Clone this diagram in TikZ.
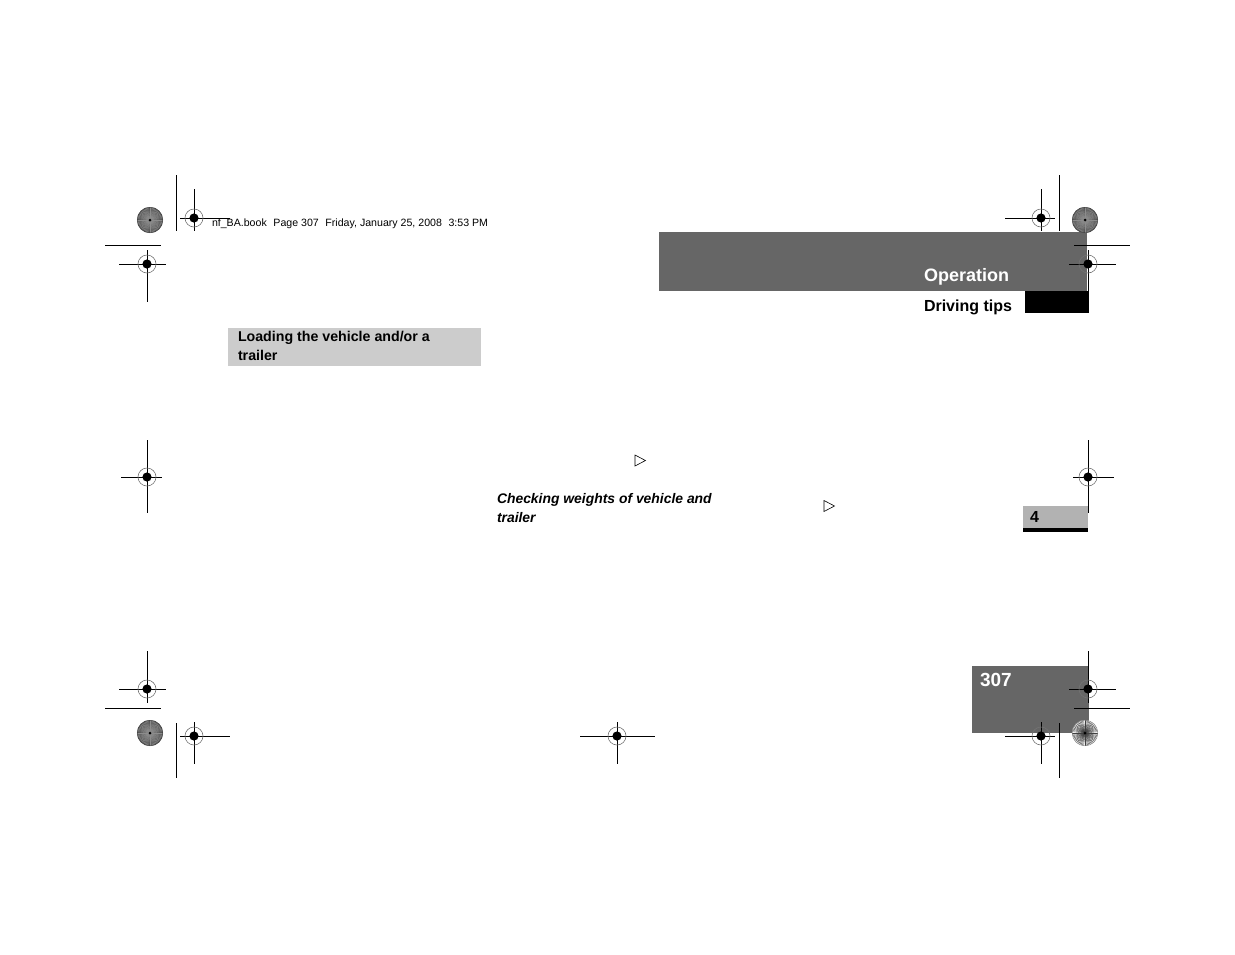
\documentclass[tikz,border=0pt]{standalone}
\usepackage{fontspec}
\setmainfont{Liberation Sans}
\begin{document}
\begin{tikzpicture}[x=1pt,y=-1pt,
  crop/.style={line width=0.9pt,black},
  regc/.pic={\draw[line width=0.6pt,black!55] (0,0) circle (9);
             \fill[black] (0,0) circle (4.6);},
  darkburst/.pic={\fill[black!68] (0,0) circle (13);
             \foreach \a in {0,6,...,354} \draw[black!45,line width=0.4pt] (0,0) -- (\a:12.6);
             \draw[black!75,line width=0.4pt] (0,0) circle (12.8);
             \fill[black] (0,0) circle (1.5);},
  lightburst/.pic={\fill[white] (0,0) circle (13);
             \foreach \a in {0,6,...,354} \draw[black!75,line width=0.4pt] (0,0) -- (\a:12.6);
             \draw[black!50,line width=0.4pt] (0,0) circle (12.8);
             \fill[black] (0,0) circle (1.5);},
  lbl/.style={inner sep=0pt,outer sep=0pt},
  tri/.style={line width=0.6pt,black}
]
\useasboundingbox (0,0) rectangle (1235,954);
\fill[white] (0,0) rectangle (1235,954);

% ---------- boxes ----------
\fill[black!60] (659,232) rectangle (1087,291);
\fill[black] (1025,291) rectangle (1089,313);
\fill[black!20] (228,328) rectangle (481,366);
\fill[black!30] (1023,506) rectangle (1088,528);
\fill[black] (1023,528) rectangle (1088,532);
\fill[black!60] (972,666) rectangle (1089,733);

% ---------- texts ----------
\node[lbl,anchor=base west,font=\fontsize{10.6}{12}\selectfont] (hdr) at (212,226)
  {nf\_BA.book\hspace{0.35em} Page 307\hspace{0.35em} Friday, January 25, 2008\hspace{0.35em} 3:53 PM};
\node[lbl,anchor=base east,font=\bfseries\fontsize{18}{20}\selectfont,text=white] (op) at (1009,281) {Operation};
\node[lbl,anchor=base east,font=\bfseries\fontsize{16}{18}\selectfont] (dt) at (1012,311) {Driving tips};
\node[lbl,anchor=base west,font=\bfseries\fontsize{14.2}{17}\selectfont] (ha) at (238,341) {Loading the vehicle and/or a};
\node[lbl,anchor=base west,font=\bfseries\fontsize{14.2}{17}\selectfont] (hb) at (238,360) {trailer};
\node[lbl,anchor=base west,font=\bfseries\itshape\fontsize{13.9}{17}\selectfont] (ca) at (497,503) {Checking weights of vehicle and};
\node[lbl,anchor=base west,font=\bfseries\itshape\fontsize{13.9}{17}\selectfont] (cb) at (497,522) {trailer};
\node[lbl,anchor=base west,font=\bfseries\fontsize{16}{18}\selectfont] (four) at (1030,522) {4};
\node[lbl,anchor=base west,font=\bfseries\fontsize{19}{21}\selectfont,text=white] (pg) at (980,686) {307};

% ---------- triangles ----------
\draw[tri,line join=miter] (635,455) -- (645.5,460.5) -- (635,466) -- cycle;
\draw[tri,line join=miter] (824,500.5) -- (834.5,506) -- (824,511.5) -- cycle;

% ---------- starbursts ----------
\pic at (150,220) {darkburst};
\pic at (1085,220) {darkburst};
\pic at (150,733) {darkburst};
\pic at (1085,733) {lightburst};

% ---------- long crop lines ----------
\draw[crop] (176,175) -- (176,231);
\draw[crop] (1059,175) -- (1059,231);
\draw[crop] (176,723) -- (176,778);
\draw[crop] (1059,723) -- (1059,778);
\draw[crop] (105,245) -- (161,245);
\draw[crop] (1074,245) -- (1130,245);
\draw[crop] (105,708) -- (161,708);
\draw[crop] (1074,708) -- (1130,708);

% ---------- registration marks ----------
\draw[crop] (180,218) -- (230,218); \draw[crop] (194,189) -- (194,231);
\pic at (194,218) {regc};
\draw[crop] (1005,218) -- (1055,218); \draw[crop] (1041,189) -- (1041,231);
\pic at (1041,218) {regc};
\draw[crop] (119,264) -- (166,264); \draw[crop] (147,250) -- (147,302);
\pic at (147,264) {regc};
\draw[crop] (1069,264) -- (1116,264); \draw[crop] (1088,250) -- (1088,302);
\pic at (1088,264) {regc};
\draw[crop] (121,477) -- (162,477); \draw[crop] (147,440) -- (147,513);
\pic at (147,477) {regc};
\draw[crop] (1073,477) -- (1114,477); \draw[crop] (1088,440) -- (1088,513);
\pic at (1088,477) {regc};
\draw[crop] (119,689) -- (166,689); \draw[crop] (147,651) -- (147,703);
\pic at (147,689) {regc};
\draw[crop] (1069,689) -- (1116,689); \draw[crop] (1088,651) -- (1088,703);
\pic at (1088,689) {regc};
\draw[crop] (180,736) -- (230,736); \draw[crop] (194,722) -- (194,764);
\pic at (194,736) {regc};
\draw[crop] (1005,736) -- (1055,736); \draw[crop] (1041,722) -- (1041,764);
\pic at (1041,736) {regc};
\draw[crop] (580,736) -- (655,736); \draw[crop] (617,722) -- (617,764);
\pic at (617,736) {regc};
\end{tikzpicture}
\end{document}
